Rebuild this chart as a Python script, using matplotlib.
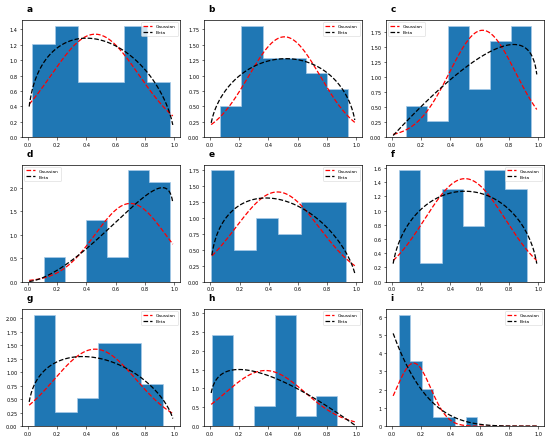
import math
import numpy as np
import matplotlib
matplotlib.use("Agg")
import matplotlib.pyplot as plt

# ------------------------------------------------------------
# Data (density histograms + fitted pdfs)
# ------------------------------------------------------------
letters = ["a", "b", "c", "d", "e", "f", "g", "h", "i"]

# histogram range (first left edge, last right edge) and bar heights
hist_lo = [0.027, 0.069, 0.096, 0.112, 0.005, 0.050, 0.043, 0.016, 0.053]
hist_hi = [0.968, 0.947, 0.954, 0.970, 0.928, 0.920, 0.922, 0.871, 0.580]
hist_heights = [
    [1.21, 1.45, 0.72, 0.72, 1.45, 0.72],
    [0.51, 1.81, 1.29, 1.29, 1.04, 0.78],
    [0.52, 0.27, 1.85, 0.80, 1.59, 1.85],
    [0.53, 0.00, 1.32, 0.53, 2.38, 2.12],
    [1.74, 0.49, 0.99, 0.74, 1.24, 1.24],
    [1.57, 0.26, 1.31, 0.79, 1.57, 1.31],
    [2.07, 0.26, 0.52, 1.55, 1.55, 0.78],
    [2.42, 0.00, 0.54, 2.96, 0.27, 0.81],
    [6.10, 3.55, 2.03, 0.51, 0.51, 0.00, 0.51],
]

# fitted Gaussian (mu, sigma) and Beta (alpha, beta) parameters
gauss_mu = [0.46, 0.51, 0.62, 0.70, 0.46, 0.50, 0.46, 0.38, 0.15]
gauss_sigma = [0.298, 0.245, 0.225, 0.239, 0.285, 0.275, 0.279, 0.270, 0.1156]
beta_a = [1.40, 1.52, 2.00, 2.60, 1.40, 1.50, 1.37, 1.25, 1.00]
beta_b = [1.60, 1.48, 1.20, 1.14, 1.65, 1.50, 1.62, 2.00, 5.30]

legend_loc = ["upper right", "upper right", "upper left", "upper left",
              "upper right", "upper right", "upper right", "upper right",
              "upper right"]


def gauss_pdf(x, mu, sigma):
    return np.exp(-(x - mu) ** 2 / (2 * sigma ** 2)) / (sigma * math.sqrt(2 * math.pi))


def beta_pdf(x, a, b):
    norm = math.gamma(a) * math.gamma(b) / math.gamma(a + b)
    return x ** (a - 1) * (1 - x) ** (b - 1) / norm


x = np.linspace(0.01, 0.99, 200)

fig, axes = plt.subplots(3, 3, figsize=(5.5, 4.39), dpi=100)
fig.subplots_adjust(left=0.04, right=0.989, top=0.952, bottom=0.027,
                    wspace=0.152, hspace=0.235)

for k, ax in enumerate(axes.flat):
    heights = hist_heights[k]
    edges = np.linspace(hist_lo[k], hist_hi[k], len(heights) + 1)
    # filled step histogram, light outline only around the whole shape
    ax.stairs(heights, edges, fill=True, facecolor="#1f77b4",
              edgecolor="#a8cbe8", linewidth=0.5)

    ax.plot(x, gauss_pdf(x, gauss_mu[k], gauss_sigma[k]), "r--", lw=0.9,
            label="Gaussian")
    ax.plot(x, beta_pdf(x, beta_a[k], beta_b[k]), "k--", lw=0.9,
            label="Beta")

    ax.set_xticks([0.0, 0.2, 0.4, 0.6, 0.8, 1.0])
    ax.set_ylim(bottom=0)
    ax.tick_params(labelsize=3.6, length=1.8, width=0.4, pad=1.5)
    for sp in ax.spines.values():
        sp.set_linewidth(0.5)
    leg = ax.legend(loc=legend_loc[k], fontsize=3.2, handlelength=2.0,
                    borderpad=0.45, labelspacing=0.35, framealpha=0.8,
                    fancybox=True)
    leg.get_frame().set_linewidth(0.4)
    ax.text(0.03, 1.06, letters[k], transform=ax.transAxes,
            fontsize=6.5, fontweight="bold", ha="left", va="bottom")

fig.savefig("out.png", dpi=100)
